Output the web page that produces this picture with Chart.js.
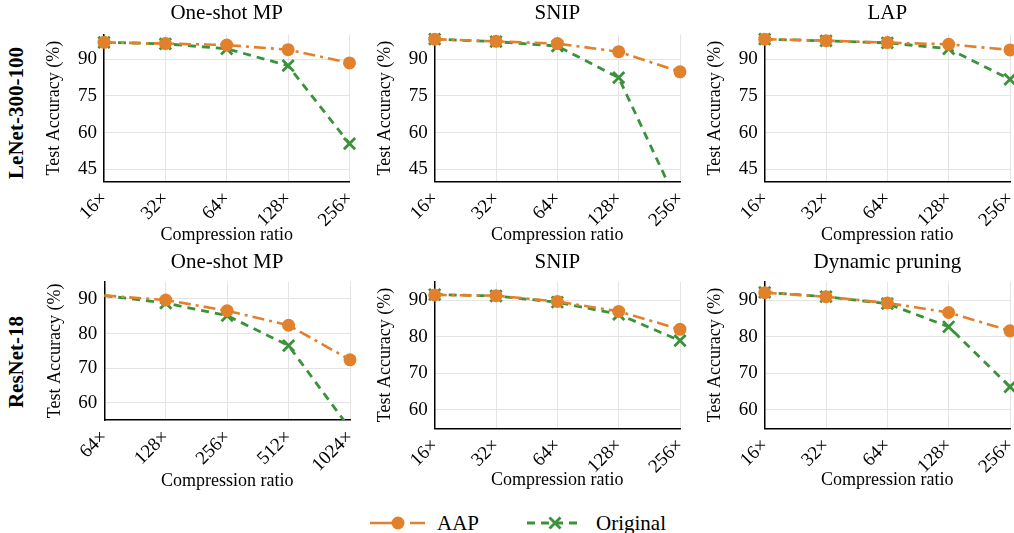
<!DOCTYPE html>
<html><head><meta charset="utf-8">
<script src="https://cdn.jsdelivr.net/npm/chart.js@4/dist/chart.umd.min.js"></script>
<style>
html,body{margin:0;padding:0;background:#fff;width:1014px;height:533px;overflow:hidden;position:relative;font-family:"Liberation Serif","Times New Roman",serif;color:#000;}
canvas{position:absolute;}
.rowlab{position:absolute;font-weight:bold;font-size:21px;white-space:nowrap;transform:translate(-50%,-50%) rotate(-90deg);line-height:1;}
.legtxt{position:absolute;font-size:21px;white-space:nowrap;line-height:1;transform:translateY(-50%);}
svg{position:absolute;left:0;top:0;}
</style></head><body>
<div class="rowlab" style="left:15.5px;top:113px;">LeNet-300-100</div>
<div class="rowlab" style="left:15.5px;top:362px;">ResNet-18</div>
<svg width="1014" height="533">
  <line x1="370" y1="523" x2="425" y2="523" stroke="#E1812C" stroke-width="2.6" stroke-dasharray="23,17,15"/>
  <circle cx="398" cy="523" r="6.5" fill="#E1812C"/>
  <line x1="527" y1="523" x2="583" y2="523" stroke="#3A923A" stroke-width="2.8" stroke-dasharray="8,6"/>
  <line x1="549.5" y1="517.5" x2="560.5" y2="528.5" stroke="#3A923A" stroke-width="2.8"/>
  <line x1="549.5" y1="528.5" x2="560.5" y2="517.5" stroke="#3A923A" stroke-width="2.8"/>
</svg>
<div class="legtxt" style="left:437px;top:523px;">AAP</div>
<div class="legtxt" style="left:596px;top:523px;">Original</div>
<script>
// ---- data ----
const lenetRatios = ['16×', '32×', '64×', '128×', '256×'];
const resnetMpRatios = ['64×', '128×', '256×', '512×', '1024×'];
const lenetYTicks = [45, 60, 75, 90];
const resnetYTicks = [60, 70, 80, 90];

const lenetMpAAP    = [96.8, 96.3, 95.7, 93.8, 88.4];
const lenetMpOrig   = [96.8, 96.2, 94.2, 87.3, 55.5];
const lenetSnipAAP  = [98.1, 97.2, 96.3, 93.0, 84.8];
const lenetSnipOrig = [98.1, 97.1, 95.3, 82.4, 29.0];
const lenetLapAAP   = [98.1, 97.5, 96.7, 96.0, 93.7];
const lenetLapOrig  = [98.1, 97.4, 96.6, 94.2, 81.7];
const resnetMpAAP    = [91.0, 89.7, 86.6, 82.4, 72.4];
const resnetMpOrig   = [91.0, 88.8, 85.2, 76.5, 52.5];
const resnetSnipAAP  = [91.4, 91.2, 89.6, 86.9, 82.0];
const resnetSnipOrig = [91.5, 91.1, 89.4, 86.1, 78.9];
const resnetDynAAP   = [92.0, 90.9, 89.2, 86.6, 81.6];
const resnetDynOrig  = [92.1, 90.9, 89.0, 82.7, 66.3];

const FONT = '"Liberation Serif", "Times New Roman", serif';
const ORANGE = '#E1812C', GREEN = '#3A923A';
const GRID = '#e4e4e4';

function makePanel(p) {
  const CT = p.rowTop, CH = 250;
  const CL = Math.floor(p.L - 62);
  const yW = p.L - CL;
  const CW = Math.ceil(p.R + 14 - CL);
  const pr = CL + CW - p.R;
  const titleLH = 21 * 1.2;
  const tPadTop = p.titleY - CT - titleLH / 2;
  const tPadBot = p.T - CT - titleLH - tPadTop;
  const xH = CT + CH - p.B;
  const axLH = 18 * 1.2;
  const xTitlePadBot = CT + CH - p.xTitleY - axLH / 2;
  const yTitlePadTop = (p.L - 49.5) - CL - axLH / 2;
  const c = document.createElement('canvas');
  c.width = CW; c.height = CH;
  c.style.left = CL + 'px'; c.style.top = CT + 'px';
  c.style.width = CW + 'px'; c.style.height = CH + 'px';
  document.body.appendChild(c);
  const clip = {left: 12, right: 12, top: 12, bottom: 0};
  new Chart(c, {
    type: 'line',
    data: {
      labels: p.labels,
      datasets: [
        {label: 'AAP', data: p.aap, borderColor: ORANGE, backgroundColor: ORANGE,
         borderWidth: 2.6, borderDash: [12, 5, 3, 5], pointStyle: 'circle',
         pointRadius: (ctx) => (p.hideFirst && ctx.dataIndex === 0) ? 0 : 6.5,
         pointBackgroundColor: ORANGE, pointBorderWidth: 0, clip: clip, tension: 0, fill: false},
        {label: 'Original', data: p.orig, borderColor: GREEN, backgroundColor: GREEN,
         borderWidth: 2.8, borderDash: [8, 6], pointStyle: 'crossRot',
         pointRadius: (ctx) => (p.hideFirst && ctx.dataIndex === 0) ? 0 : 8,
         pointBorderColor: GREEN, pointBorderWidth: 2.8, clip: clip, tension: 0, fill: false}
      ]
    },
    options: {
      responsive: false, animation: false, events: [],
      layout: {padding: {left: 0, right: pr, top: 0, bottom: 0}},
      plugins: {
        legend: {display: false}, tooltip: {enabled: false},
        title: {display: true, text: p.title, fullSize: false, color: '#000',
                font: {family: FONT, size: 21, weight: 'normal'},
                padding: {top: tPadTop, bottom: tPadBot}}
      },
      scales: {
        x: {
          type: 'category', offset: false,
          grid: {color: GRID, lineWidth: 1, drawTicks: false},
          border: {display: true, color: '#000', width: 1.5},
          ticks: {font: {family: FONT, size: 19}, color: '#000', minRotation: 45, maxRotation: 45, padding: 6, autoSkip: false},
          title: {display: true, text: 'Compression ratio', color: '#000', font: {family: FONT, size: 18}, padding: {top: 0, bottom: xTitlePadBot}},
          afterFit: (s) => { s.height = xH; s.paddingLeft = 0; s.paddingRight = 0; }
        },
        y: {
          min: p.min, max: p.max,
          grid: {color: GRID, lineWidth: 1, drawTicks: false},
          border: {display: true, color: '#000', width: 1.5},
          ticks: {font: {family: FONT, size: 19}, color: '#000', padding: 7},
          afterBuildTicks: (s) => { s.ticks = p.yTicks.map(v => ({value: v})); },
          title: {display: true, text: 'Test Accuracy (%)', color: '#000', font: {family: FONT, size: 18}, padding: {top: yTitlePadTop, bottom: 0}},
          afterFit: (s) => { s.width = yW; s.paddingTop = 0; s.paddingBottom = 0; }
        }
      }
    }
  });
}

makePanel({title: 'One-shot MP', labels: lenetRatios, aap: lenetMpAAP, orig: lenetMpOrig, min: 40, max: 100, yTicks: lenetYTicks,
  rowTop: 0, L: 104, R: 349.5, T: 34.5, B: 181.7, titleY: 13.5, xTitleY: 235});
makePanel({title: 'SNIP', labels: lenetRatios, aap: lenetSnipAAP, orig: lenetSnipOrig, min: 40, max: 100, yTicks: lenetYTicks,
  rowTop: 0, L: 434.7, R: 680, T: 34.5, B: 181.7, titleY: 13.5, xTitleY: 235});
makePanel({title: 'LAP', labels: lenetRatios, aap: lenetLapAAP, orig: lenetLapOrig, min: 40, max: 100, yTicks: lenetYTicks,
  rowTop: 0, L: 764.7, R: 1010, T: 34.5, B: 181.7, titleY: 13.5, xTitleY: 235});
makePanel({title: 'One-shot MP', labels: resnetMpRatios, aap: resnetMpAAP, orig: resnetMpOrig, min: 55, max: 95, yTicks: resnetYTicks,
  rowTop: 250, L: 104.3, R: 350, T: 281.7, B: 420, titleY: 262.5, xTitleY: 481, hideFirst: true});
makePanel({title: 'SNIP', labels: lenetRatios, aap: resnetSnipAAP, orig: resnetSnipOrig, min: 55, max: 95, yTicks: resnetYTicks,
  rowTop: 250, L: 434.7, R: 680, T: 281.7, B: 428.3, titleY: 262.5, xTitleY: 480});
makePanel({title: 'Dynamic pruning', labels: lenetRatios, aap: resnetDynAAP, orig: resnetDynOrig, min: 55, max: 95, yTicks: resnetYTicks,
  rowTop: 250, L: 764.7, R: 1010, T: 281.7, B: 428.3, titleY: 262.5, xTitleY: 480});
</script>
</body></html>
